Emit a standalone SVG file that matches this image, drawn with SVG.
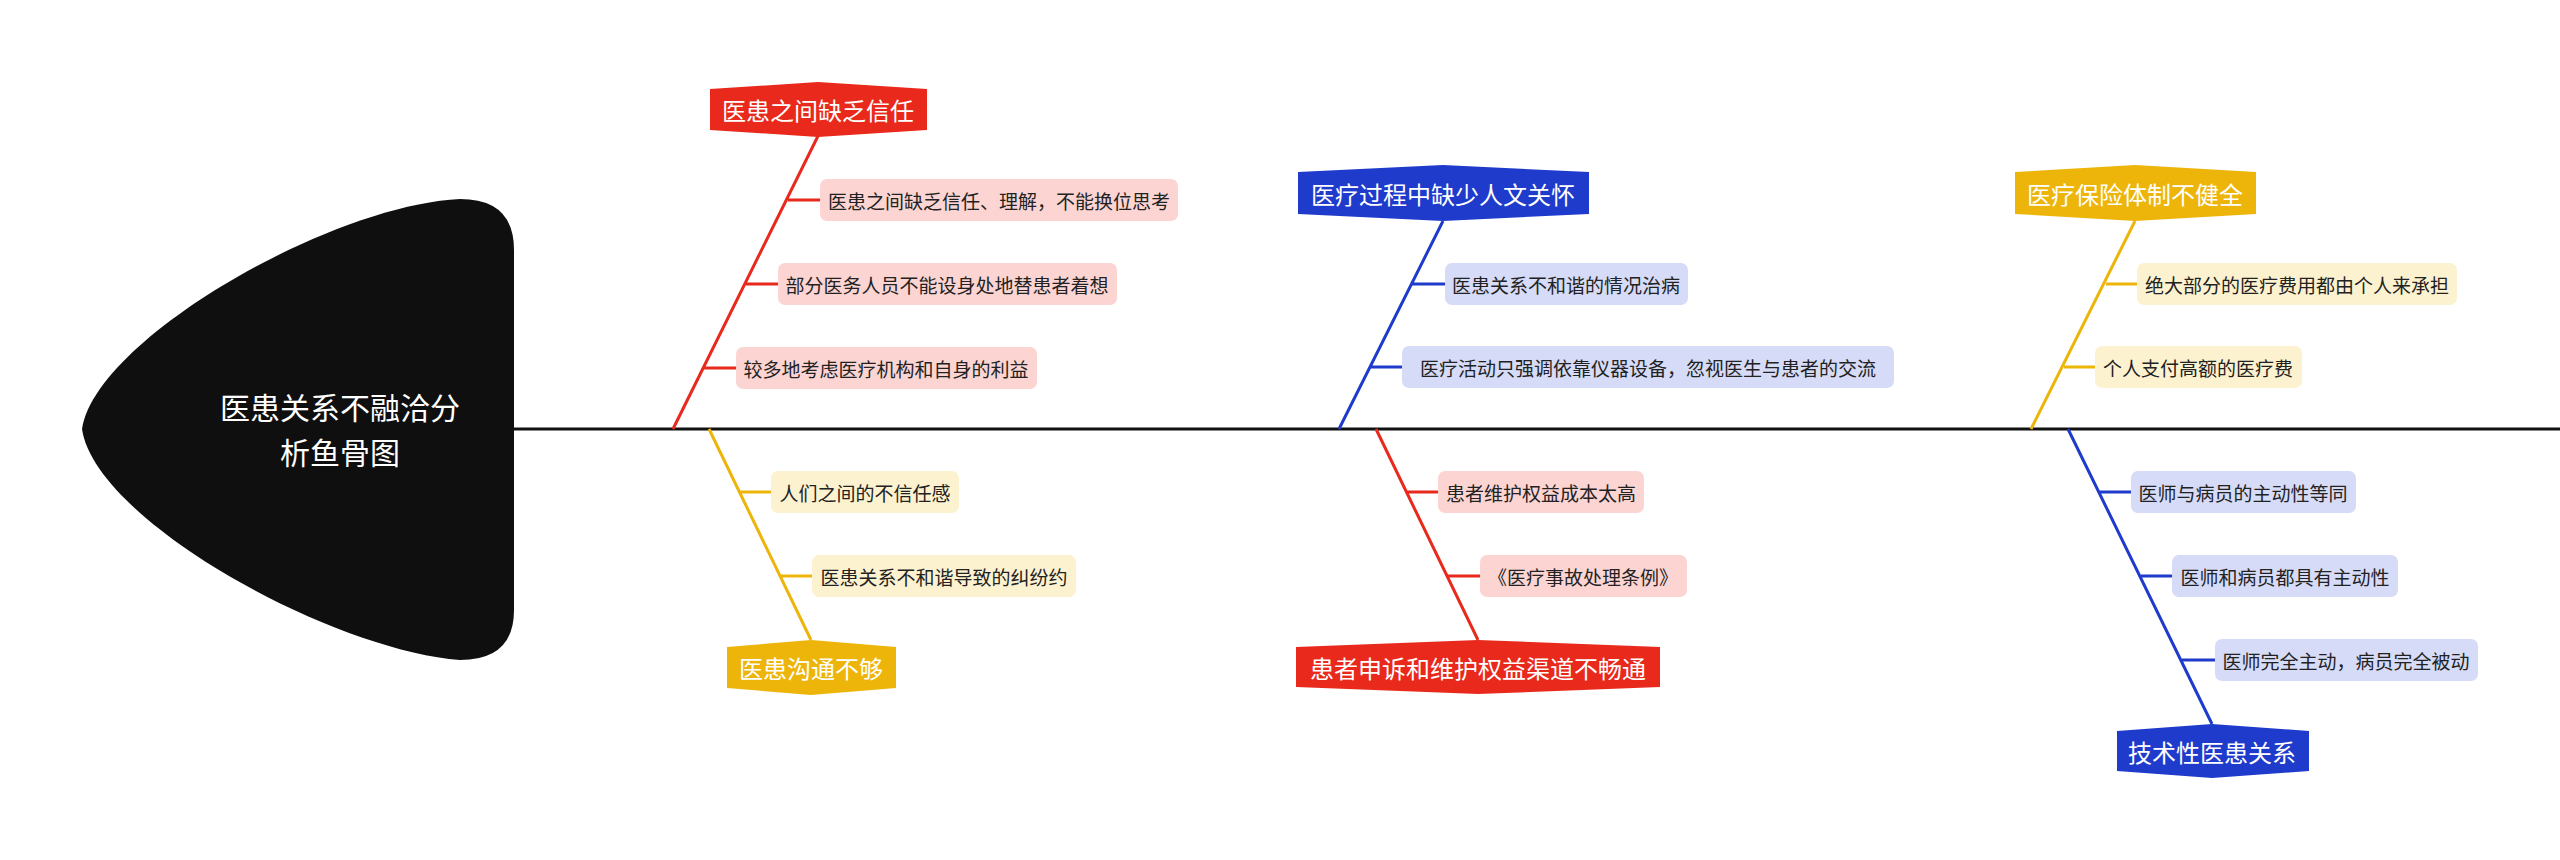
<svg xmlns="http://www.w3.org/2000/svg" width="2560" height="860" viewBox="0 0 2560 860">
<style>
text{font-family:"Noto Sans CJK SC","Noto Sans",sans-serif;dominant-baseline:central;text-anchor:middle}
.m{font-size:24px;fill:#fff}
.c{font-size:19px;fill:#222}
.t{font-size:30px;fill:#fff}
.r{fill:#E8291C}.y{fill:#EDB50A}.b{fill:#1F3BCC}
.lr{fill:#FCD5D3}.ly{fill:#FDF2D0}.lb{fill:#D6DBF7}
.sr{stroke:#E8291C}.sy{stroke:#EDB50A}.sb{stroke:#1F3BCC}
.ln{fill:none;stroke-width:3}
.st{fill:none;stroke-width:4}
</style>
<g id="connectors">
<line x1="511" y1="429" x2="2560" y2="429" stroke="#111" stroke-width="3"/>
<path class="ln sr" d="M673,429 L818,136 M788,200 H820 M746,284 H778 M704,368 H736"/>
<path class="ln sy" d="M709,429 L811,640 M739,492 H771 M781,576 H812"/>
<path class="ln sb" d="M1339,429 L1443,221 M1412,284 H1445 M1370,367 H1402"/>
<path class="ln sr" d="M1376,429 L1478,640 M1407,492 H1438 M1447,576 H1480"/>
<path class="ln sy" d="M2031,429 L2135,221 M2106,284 H2137 M2064,367 H2095"/>
<path class="ln sb" d="M2068,429 L2212,724 M2099,492 H2131 M2141,576 H2172 M2182,660 H2215"/>
</g>
<g id="head">
<path fill="#0f0f0f" d="M460,199 Q514,199 514,250 L514,610 Q514,660 460,660 C330,650 95,520 82,429 C95,340 330,205 460,199 Z"/>
<text class="t" x="340" y="406">医患关系不融洽分</text>
<text class="t" x="340" y="451">析鱼骨图</text>
</g>
<g id="b1"><path class="r" d="M710,89 L818,82 L927,89 L927,130 L818,137 L710,130 Z"/><text class="m" x="818" y="109">医患之间缺乏信任</text></g>
<g id="b1c1"><rect class="lr" x="820" y="179" width="358" height="42" rx="7"/><text class="c" x="999" y="200">医患之间缺乏信任、理解，不能换位思考</text></g>
<g id="b1c2"><rect class="lr" x="778" y="263" width="339" height="42" rx="7"/><text class="c" x="947" y="284">部分医务人员不能设身处地替患者着想</text></g>
<g id="b1c3"><rect class="lr" x="736" y="347" width="301" height="42" rx="7"/><text class="c" x="886" y="368">较多地考虑医疗机构和自身的利益</text></g>
<g id="b2"><path class="y" d="M727,647 L811,640 L896,647 L896,688 L811,695 L727,688 Z"/><text class="m" x="811" y="667">医患沟通不够</text></g>
<g id="b2c1"><rect class="ly" x="771" y="471" width="188" height="42" rx="7"/><text class="c" x="865" y="492">人们之间的不信任感</text></g>
<g id="b2c2"><rect class="ly" x="812" y="555" width="264" height="42" rx="7"/><text class="c" x="944" y="576">医患关系不和谐导致的纠纷约</text></g>
<g id="b3"><path class="b" d="M1298,172 L1443,165 L1589,172 L1589,214 L1443,221 L1298,214 Z"/><text class="m" x="1443" y="193">医疗过程中缺少人文关怀</text></g>
<g id="b3c1"><rect class="lb" x="1445" y="263" width="243" height="42" rx="7"/><text class="c" x="1566" y="284">医患关系不和谐的情况治病</text></g>
<g id="b3c2"><rect class="lb" x="1402" y="346" width="492" height="42" rx="7"/><text class="c" x="1648" y="367">医疗活动只强调依靠仪器设备，忽视医生与患者的交流</text></g>
<g id="b4"><path class="r" d="M1296,647 L1478,640 L1660,647 L1660,687 L1478,694 L1296,687 Z"/><text class="m" x="1478" y="667">患者申诉和维护权益渠道不畅通</text></g>
<g id="b4c1"><rect class="lr" x="1438" y="471" width="206" height="42" rx="7"/><text class="c" x="1541" y="492">患者维护权益成本太高</text></g>
<g id="b4c2"><rect class="lr" x="1480" y="555" width="207" height="42" rx="7"/><text class="c" x="1583" y="576">《医疗事故处理条例》</text></g>
<g id="b5"><path class="y" d="M2015,172 L2135,165 L2256,172 L2256,214 L2135,221 L2015,214 Z"/><text class="m" x="2135" y="193">医疗保险体制不健全</text></g>
<g id="b5c1"><rect class="ly" x="2137" y="263" width="320" height="42" rx="7"/><text class="c" x="2297" y="284">绝大部分的医疗费用都由个人来承担</text></g>
<g id="b5c2"><rect class="ly" x="2095" y="346" width="207" height="42" rx="7"/><text class="c" x="2198" y="367">个人支付高额的医疗费</text></g>
<g id="b6"><path class="b" d="M2117,731 L2212,724 L2309,731 L2309,771 L2212,778 L2117,771 Z"/><text class="m" x="2212" y="751">技术性医患关系</text></g>
<g id="b6c1"><rect class="lb" x="2131" y="471" width="225" height="42" rx="7"/><text class="c" x="2243" y="492">医师与病员的主动性等同</text></g>
<g id="b6c2"><rect class="lb" x="2172" y="555" width="226" height="42" rx="7"/><text class="c" x="2285" y="576">医师和病员都具有主动性</text></g>
<g id="b6c3"><rect class="lb" x="2215" y="639" width="263" height="42" rx="7"/><text class="c" x="2346" y="660">医师完全主动，病员完全被动</text></g>
</svg>
